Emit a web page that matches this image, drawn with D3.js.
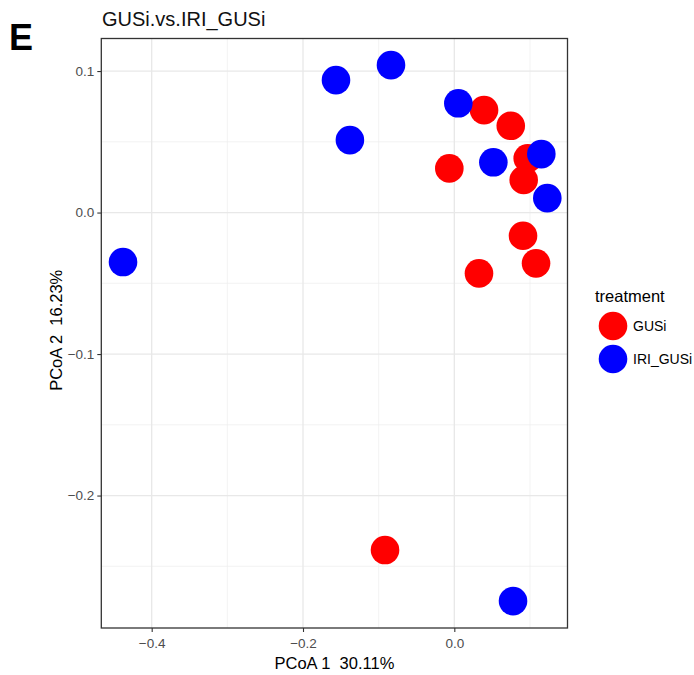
<!DOCTYPE html>
<html><head><meta charset="utf-8">
<script src="https://cdn.jsdelivr.net/npm/d3@7"></script>
<style>body{margin:0;background:#fff;font-family:"Liberation Sans",Arial,sans-serif;}</style>
</head><body><svg id="c" width="694" height="675"></svg>
<script>
const gusiX = [0.0393, 0.0746, -0.0066, 0.0970, 0.0917, 0.0908, 0.1080, 0.0326, -0.0916];
const gusiY = [0.0724, 0.0613, 0.0312, 0.0383, 0.0230, -0.0164, -0.0359, -0.0430, -0.2385];
const iriX = [-0.1564, -0.0837, -0.1380, 0.0053, 0.0516, 0.1150, 0.1229, -0.4379, 0.0776];
const iriY = [0.0936, 0.1042, 0.0512, 0.0772, 0.0355, 0.0413, 0.0102, -0.0350, -0.2746];
const groups = ["GUSi", "IRI_GUSi"];
const colors = ["#ff0000", "#0000ff"];
const xTicks = [-0.4, -0.2, 0.0];
const yTicks = [0.1, 0.0, -0.1, -0.2];
const xMinor = [-0.3, -0.1, 0.1];
const yMinor = [0.05, -0.05, -0.15, -0.25];

const svg = d3.select("#c");
const L = 101.3, R = 567.5, T = 38.5, B = 628;
const x = d3.scaleLinear().domain([-0.4666, 0.1496]).range([L, R]);
const y = d3.scaleLinear().domain([-0.2936, 0.1230]).range([B, T]);

svg.append("text").attr("x", 9).attr("y", 50).attr("font-size", 36).attr("font-weight", "bold").text("E");
svg.append("text").attr("x", 102).attr("y", 26).attr("font-size", 20).attr("fill", "#111").text("GUSi.vs.IRI_GUSi");

const g = svg.append("g");
g.selectAll(".mx").data(xMinor).join("line").attr("x1", d => x(d)).attr("x2", d => x(d)).attr("y1", T).attr("y2", B).attr("stroke", "#eeeeee").attr("stroke-width", 0.7);
g.selectAll(".my").data(yMinor).join("line").attr("y1", d => y(d)).attr("y2", d => y(d)).attr("x1", L).attr("x2", R).attr("stroke", "#eeeeee").attr("stroke-width", 0.7);
g.selectAll(".gx").data(xTicks).join("line").attr("x1", d => x(d)).attr("x2", d => x(d)).attr("y1", T).attr("y2", B).attr("stroke", "#e8e8e8").attr("stroke-width", 1.3);
g.selectAll(".gy").data(yTicks).join("line").attr("y1", d => y(d)).attr("y2", d => y(d)).attr("x1", L).attr("x2", R).attr("stroke", "#e8e8e8").attr("stroke-width", 1.3);

const pts = [];
gusiX.forEach((v, i) => pts.push({x: v, y: gusiY[i], g: 0}));
iriX.forEach((v, i) => pts.push({x: v, y: iriY[i], g: 1}));
g.selectAll("circle").data(pts).join("circle").attr("cx", d => x(d.x)).attr("cy", d => y(d.y)).attr("r", 14.3).attr("fill", d => colors[d.g]);

g.append("rect").attr("x", L).attr("y", T).attr("width", R - L).attr("height", B - T).attr("fill", "none").attr("stroke", "#333").attr("stroke-width", 1.3);

const xa = svg.append("g").attr("transform", `translate(0,${B})`).call(d3.axisBottom(x).tickValues(xTicks).tickSize(4).tickFormat(d3.format(".1f")));
const ya = svg.append("g").attr("transform", `translate(${L},0)`).call(d3.axisLeft(y).tickValues(yTicks).tickSize(4).tickFormat(d3.format(".1f")));
[xa, ya].forEach(a => {
  a.select(".domain").remove();
  a.selectAll("line").attr("stroke", "#333").attr("stroke-width", 1.1);
  a.selectAll("text").attr("fill", "#4d4d4d").attr("font-size", 13.5).attr("font-family", "Liberation Sans, Arial, sans-serif");
});
xa.selectAll("text").attr("dy", null).attr("y", 20);

svg.append("text").attr("x", (L + R) / 2).attr("y", 669).attr("text-anchor", "middle").attr("font-size", 16.5).text("PCoA 1\u00a0\u00a030.11%");
svg.append("text").attr("transform", `translate(62,${(T + B) / 2 - 3}) rotate(-90)`).attr("text-anchor", "middle").attr("font-size", 16.5).text("PCoA 2\u00a0\u00a016.23%");

const lg = svg.append("g");
lg.append("text").attr("x", 595).attr("y", 302).attr("font-size", 16.5).text("treatment");
groups.forEach((gr, i) => {
  lg.append("circle").attr("cx", 613).attr("cy", 326 + i * 33).attr("r", 14.3).attr("fill", colors[i]);
  lg.append("text").attr("x", 633).attr("y", 331 + i * 33).attr("font-size", 14).text(gr);
});
</script></body></html>
